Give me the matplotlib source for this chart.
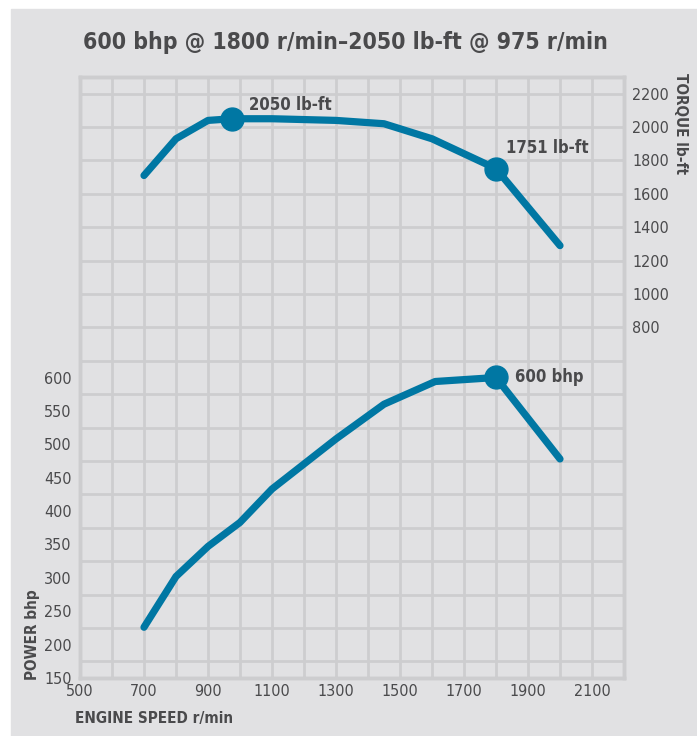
import matplotlib.pyplot as plt
from matplotlib.patches import Rectangle

# engine speed (r/min)
speed_torque = [700, 800, 900, 975, 1100, 1300, 1450, 1600, 1800, 2000]
torque = [1710, 1930, 2040, 2050, 2050, 2040, 2020, 1930, 1751, 1290]

speed_power = [700, 800, 900, 1000, 1100, 1300, 1450, 1610, 1800, 2000]
power = [226, 302, 347, 383, 433, 508, 560, 594, 600, 478]

# highlighted points
peak_torque = (975, 2050)
rated_torque = (1800, 1751)
rated_power = (1800, 600)

x_ticks = [500, 700, 900, 1100, 1300, 1500, 1700, 1900, 2100]
power_ticks = [150, 200, 250, 300, 350, 400, 450, 500, 550, 600]
torque_ticks = [800, 1000, 1200, 1400, 1600, 1800, 2000, 2200]

BG = "#e1e1e3"
GRID = "#cdcdcf"
LINE = "#0077a3"
TEXT = "#4a4a4c"

plt.rcParams["font.family"] = ["DejaVu Sans"]
plt.rcParams["font.stretch"] = "condensed"

fig = plt.figure(figsize=(6.97, 7.36), dpi=100)
fig.patches.append(Rectangle((11 / 697, 0), 1, (736 - 9) / 736,
                             transform=fig.transFigure, color=BG, zorder=-5))

rect = [80 / 697, 58 / 736, 544 / 697, 601 / 736]
ax2 = fig.add_axes(rect)          # torque, drawn first (holds the grid)
ax = fig.add_axes(rect, sharex=ax2)  # power, on top
ax2.set_zorder(1)
ax.set_zorder(2)
ax.patch.set_visible(False)
ax2.patch.set_facecolor(BG)

ax2.set_xlim(500, 2200)
ax2.set_ylim(-1300, 2300)
ax.set_ylim(150, 1050)

# grid
for x in range(600, 2200, 100):
    ax2.axvline(x, color=GRID, lw=2, zorder=1)
for t in range(-1200, 2300, 200):
    ax2.axhline(t, color=GRID, lw=2, zorder=1)

for a in (ax, ax2):
    for s in a.spines.values():
        s.set_color(GRID)
        s.set_linewidth(2.5)
    a.tick_params(length=0, colors=TEXT, labelsize=11.5)

# torque curve
ax2.plot(speed_torque, torque, color=LINE, lw=5.2, solid_capstyle="round",
         solid_joinstyle="round", zorder=3)
ax2.plot(*peak_torque, "o", color=LINE, ms=16.5, zorder=4)
ax2.plot(*rated_torque, "o", color=LINE, ms=16.5, zorder=4)

# power curve
ax.plot(speed_power, power, color=LINE, lw=5.2, solid_capstyle="round",
        solid_joinstyle="round", zorder=3)
ax.plot(*rated_power, "o", color=LINE, ms=16.5, zorder=4)

ax2.annotate("%d lb-ft" % peak_torque[1], peak_torque, xytext=(12, 10),
             textcoords="offset points", fontsize=12, fontweight="bold",
             color=TEXT, va="center", ha="left")
ax2.annotate("%d lb-ft" % rated_torque[1], rated_torque, xytext=(7, 15),
             textcoords="offset points", fontsize=12, fontweight="bold",
             color=TEXT, va="center", ha="left")
ax.annotate("%d bhp" % rated_power[1], rated_power, xytext=(14, 0),
            textcoords="offset points", fontsize=12, fontweight="bold",
            color=TEXT, va="center", ha="left")

ax.set_xticks(x_ticks)
ax.set_xticklabels([str(v) for v in x_ticks])
ax.set_yticks(power_ticks)
ax.yaxis.tick_left()
ax2.yaxis.tick_right()
ax2.set_yticks(torque_ticks)
ax2.xaxis.set_visible(False)
ax.tick_params(axis="x", pad=4)
ax.tick_params(axis="y", pad=6)
ax2.tick_params(axis="y", pad=6)

fig.text(33 / 697, 1 - 680 / 736, "POWER bhp", rotation=90, ha="center",
         va="bottom", fontsize=11, fontweight="bold", color=TEXT)
fig.text(680 / 697, 1 - 73 / 736, "TORQUE lb-ft", rotation=-90, ha="center",
         va="top", fontsize=11, fontweight="bold", color=TEXT)
fig.text(75 / 697, 1 - 718 / 736, "ENGINE SPEED r/min", ha="left",
         va="center", fontsize=11, fontweight="bold", color=TEXT)
fig.text(345 / 697, 1 - 43 / 736,
         "600 bhp @ 1800 r/min\u20132050 lb-ft @ 975 r/min",
         ha="center", va="center", fontsize=16.5, fontweight="bold",
         color=TEXT)

fig.savefig("out.png", dpi=100)
